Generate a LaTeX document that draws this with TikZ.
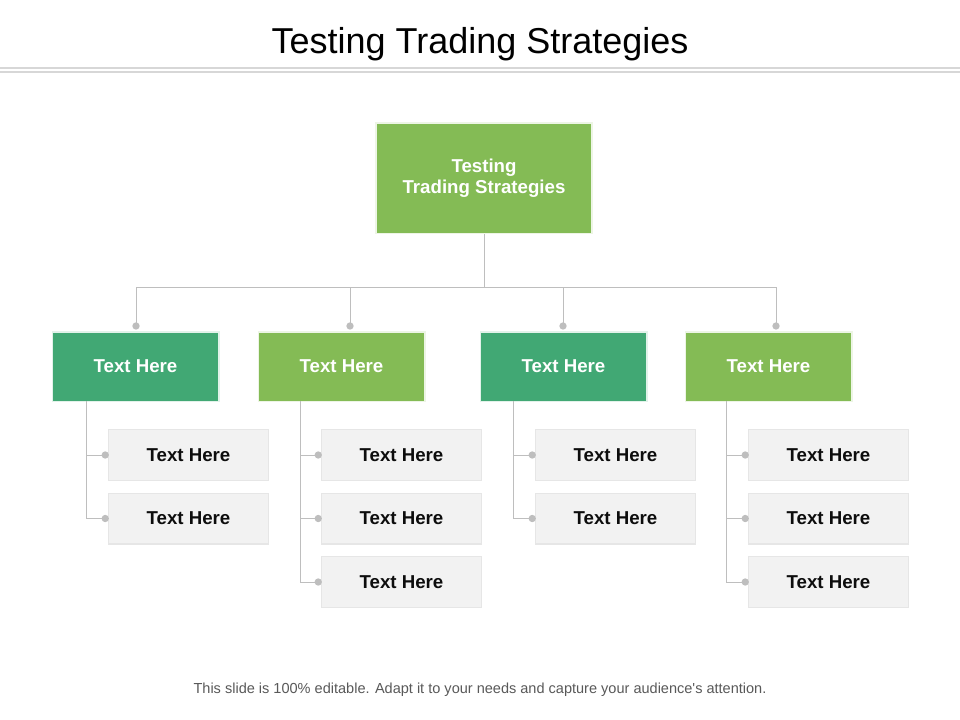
\documentclass[tikz,border=0pt]{standalone}
\usepackage{fontspec}
\setmainfont{Liberation Sans}
\usepackage{tikz}
\definecolor{leafgreen}{RGB}{132,187,85}
\definecolor{seagreen}{RGB}{65,168,116}
\definecolor{cardgray}{RGB}{242,242,242}
\definecolor{cardedge}{RGB}{230,230,230}
\definecolor{wiregray}{RGB}{190,190,190}
\definecolor{rulegray}{RGB}{215,215,215}
\definecolor{notegray}{RGB}{89,89,89}

\begin{document}
\begin{tikzpicture}[x=0.75pt,y=-0.75pt,
  topbox/.style={fill=leafgreen,draw=white!85!leafgreen,line width=1pt,minimum width=162pt,minimum height=83pt,
    text=white,font=\bfseries\fontsize{14}{16}\selectfont,align=center},
  headbox/.style={draw=white!85!#1,fill=#1,line width=1pt,minimum width=125pt,minimum height=52pt,
    text=white,font=\bfseries\fontsize{14}{16}\selectfont},
  card/.style={fill=cardgray,draw=cardedge,line width=1pt,minimum width=120pt,minimum height=38pt,
    text=black!95,font=\bfseries\fontsize{14}{16}\selectfont},
  link/.style={draw=wiregray,line width=0.75pt},
  dot/.style={circle,fill=wiregray,inner sep=0pt,minimum size=5.5pt}]
\useasboundingbox[fill=white] (0,0) rectangle (960,720);

% title
\node [anchor=base,font=\fontsize{27}{32}\selectfont] (title) at (480,54) {Testing Trading Strategies};
\draw [rulegray,line width=0.8pt] (0,68) -- (960,68) (0,72) -- (960,72);

% top of the tree
\node [topbox] (top) at (484,178.5) {Testing\\Trading Strategies};
\coordinate (bus) at (484,288);

% second level
\node [headbox=seagreen] (g1) at (135.5,366.5) {Text Here};
\node [headbox=leafgreen] (g2) at (341.5,366.5) {Text Here};
\node [headbox=seagreen] (g3) at (563.5,366.5) {Text Here};
\node [headbox=leafgreen] (g4) at (768.5,366.5) {Text Here};

\node [dot] (p1) at (136,326) {};
\node [dot] (p2) at (350,326) {};
\node [dot] (p3) at (563,326) {};
\node [dot] (p4) at (776,326) {};

\draw [link] (top.south) -- (bus);
\draw [link] (p1.center) -- (p1.center |- bus) -- (p4.center |- bus) -- (p4.center);
\draw [link] (p2.center) -- (p2.center |- bus);
\draw [link] (p3.center) -- (p3.center |- bus);

% cards
\node [card] (c1a) at (188.5,455) {Text Here};
\node [card] (c1b) at (188.5,518.5) {Text Here};
\node [card] (c2a) at (401.5,455) {Text Here};
\node [card] (c2b) at (401.5,518.5) {Text Here};
\node [card] (c2c) at (401.5,582) {Text Here};
\node [card] (c3a) at (615.5,455) {Text Here};
\node [card] (c3b) at (615.5,518.5) {Text Here};
\node [card] (c4a) at (828.5,455) {Text Here};
\node [card] (c4b) at (828.5,518.5) {Text Here};
\node [card] (c4c) at (828.5,582) {Text Here};

% spines
\coordinate (s1) at (86,401);
\coordinate (s2) at (300,401);
\coordinate (s3) at (513,401);
\coordinate (s4) at (726,401);

\foreach \c/\s in {c1a/s1,c1b/s1,c2a/s2,c2b/s2,c2c/s2,c3a/s3,c3b/s3,c4a/s4,c4b/s4,c4c/s4}
{
  \node [dot,anchor=east] (\c dot) at ([xshift=1pt]\c.west) {};
  \draw [link] (\s) |- (\c dot.center);
}

% note
\node [anchor=base,text=notegray,font=\fontsize{10.9}{13}\selectfont] (note) at (480,693)
  {This slide is 100\% editable. Adapt it to your needs and capture your audience\textquotesingle s attention.};
\end{tikzpicture}
\end{document}
